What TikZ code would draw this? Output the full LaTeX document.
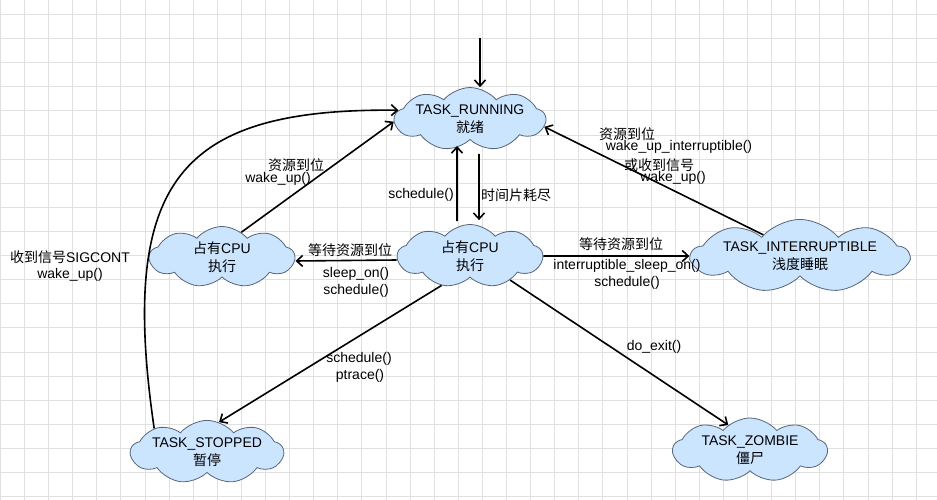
\documentclass[tikz,border=0pt]{standalone}
\usepackage{fontspec}
\setmainfont{Liberation Sans}
\newfontfamily\cjk{Noto Sans CJK SC}
\usetikzlibrary{shapes.symbols,arrows.meta}
\definecolor{cloudfill}{HTML}{CCE5FF}
\definecolor{cloudline}{HTML}{56657A}
\definecolor{gridline}{HTML}{E0E0E0}

\begin{document}
\begin{tikzpicture}[x=1pt,y=-1pt,font=\fontsize{14}{18}\selectfont,
  state/.style={cloud, cloud puffs=9, cloud puff arc=100, cloud ignores aspect, draw=cloudline,
    line width=0.8pt, fill=cloudfill, align=center, inner sep=0pt},
  trans/.style={line width=1.6pt, -{Straight Barb[length=6pt,width=11pt]}},
  lbl/.style={inner sep=0pt}]
  \useasboundingbox (0,0) rectangle (937,500);
  \fill[white] (0,0) rectangle (937,500);
  \foreach \x in {0.3,24.4,...,937}
    \draw[gridline, line width=0.8pt] (\x,0) -- (\x,500);
  \foreach \y in {14.5,38.6,...,500}
    \draw[gridline, line width=0.8pt] (0,\y) -- (937,\y);

  \node[state, minimum width=146pt, minimum height=62pt] (run) at (470,119) {TASK\_RUNNING\\{\cjk 就绪}};
  \node[state, minimum width=145pt, minimum height=63pt] (cpu) at (470,256) {{\cjk 占有}CPU\\{\cjk 执行}};
  \node[state, minimum width=145pt, minimum height=61pt] (cpuL) at (222,257) {{\cjk 占有}CPU\\{\cjk 执行}};
  \node[state, minimum width=217pt, minimum height=67pt] (int) at (800,256) {TASK\_INTERRUPTIBLE\\{\cjk 浅度睡眠}};
  \node[state, minimum width=150pt, minimum height=60pt] (stop) at (207,452) {TASK\_STOPPED\\{\cjk 暂停}};
  \node[state, minimum width=154pt, minimum height=64pt] (zomb) at (750,450) {TASK\_ZOMBIE\\{\cjk 僵尸}};

  \coordinate (start) at (480,38);
  \draw[trans] (start) -- (start |- run.north);
  \draw[trans, shorten <=3pt, shorten >=6pt] ([xshift=-13pt]cpu.north) -- ([xshift=-13pt]run.south);
  \draw[trans, shorten <=14pt, shorten >=4pt] ([xshift=9pt]run.south) -- ([xshift=9pt]cpu.north);
  \draw[trans] ([yshift=-4pt]cpu.west) -- ([yshift=-4pt]cpuL.east);
  \draw[trans] (cpu.east) -- (int.west);
  \draw[trans] (cpuL.52) -- (run.182);
  \draw[trans] (int.150) -- (run.-6);
  \draw[trans] (cpu.226) -- (stop.68);
  \draw[trans] (cpu.-31) -- (zomb.131);
  \draw[trans] (stop.156) .. controls (118,180) and (180,108) .. (run.173);

  % labels
  \node[lbl] (l1) at (421,195) {schedule()};
  \node[lbl] (l2) at (516,195) {\cjk 时间片耗尽};
  \node[lbl] (l3) at (296,165) {\cjk 资源到位};
  \node[lbl] (l4) at (278,179) {wake\_up()};
  \node[lbl] (l5) at (627,134) {\cjk 资源到位};
  \node[lbl] (l6) at (679,147) {wake\_up\_interruptible()};
  \node[lbl] (l7) at (659,165) {\cjk 或收到信号};
  \node[lbl] (l8) at (673,178) {wake\_up()};
  \node[lbl] (l9) at (621,244) {\cjk 等待资源到位};
  \node[lbl] (l10) at (627,266) {interruptible\_sleep\_on()};
  \node[lbl] (l11) at (627,283) {schedule()};
  \node[lbl] (l12) at (350,250) {\cjk 等待资源到位};
  \node[lbl] (l13) at (356,274) {sleep\_on()};
  \node[lbl] (l14) at (356,291) {schedule()};
  \node[lbl] (l15) at (70,257) {{\cjk 收到信号}SIGCONT};
  \node[lbl] (l16) at (70,275) {wake\_up()};
  \node[lbl] (l17) at (359,359) {schedule()};
  \node[lbl] (l18) at (360,376) {ptrace()};
  \node[lbl] (l19) at (654,347) {do\_exit()};
\end{tikzpicture}
\end{document}
